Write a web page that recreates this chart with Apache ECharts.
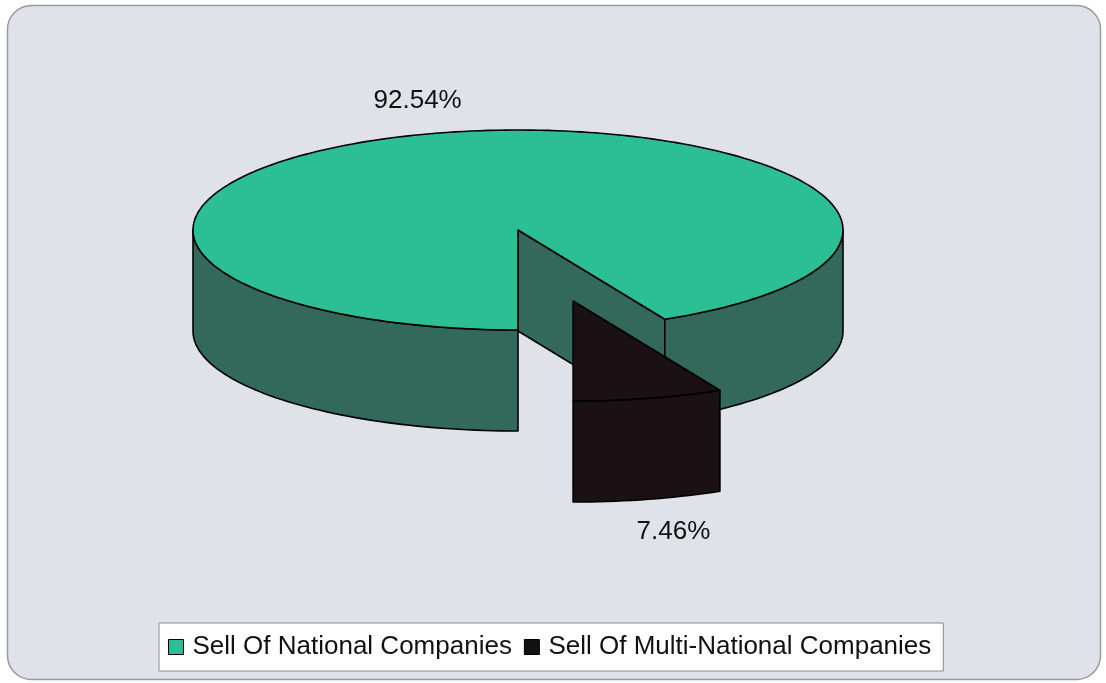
<!DOCTYPE html>
<html>
<head>
<meta charset="utf-8">
<script src="https://cdn.jsdelivr.net/npm/echarts@6/dist/echarts.min.js"></script>
<style>
  html, body { margin: 0; padding: 0; background: #ffffff; }
  #chart { width: 1106px; height: 683px; }
</style>
</head>
<body>
<div id="chart"></div>
<script>
// Market share of sales: national vs multi-national companies
const categories = ['Sell Of National Companies', 'Sell Of Multi-National Companies'];
const shares = [92.54, 7.46];
const shareLabels = ['92.54%', '7.46%'];

// Drawing parameters for the tilted 3D pie (in axis units: rx = 1, ry = 1)
const PIE = {
  startAngle: 90,        // screen angle (y down) where the first slice begins: straight to the front
  depth: 1.01,           // thickness of the disc
  explode: [0, 0.73],    // radial pull-out of each slice
  labelRadius: 1.33,
  topColors: ['#2cbf96', '#1b1114'],
  sideColors: ['#33695b', '#1b1114'],
  legendColors: ['#2cbf96', '#111111']
};

const total = shares.reduce((a, b) => a + b, 0);
const rad = d => d * Math.PI / 180;

function makeRenderer(idx) {
  return function (params, api) {
    let before = 0;
    for (let k = 0; k < idx; k++) before += shares[k];
    const a0 = PIE.startAngle + 360 * before / total;
    const a1 = a0 + 360 * shares[idx] / total;
    const mid = (a0 + a1) / 2;
    const e = PIE.explode[idx];
    const cx = e * Math.cos(rad(mid));
    const cy = -e * Math.sin(rad(mid));
    const D = PIE.depth;

    const pt = (deg, r, z) => api.coord([cx + r * Math.cos(rad(deg)), cy - r * Math.sin(rad(deg)) - z]);
    const arc = (from, to, z) => {
      const pts = [];
      const n = Math.max(2, Math.ceil(Math.abs(to - from) / 1.5));
      for (let s = 0; s <= n; s++) pts.push(pt(from + (to - from) * s / n, 1, z));
      return pts;
    };
    const stroke = { stroke: '#000', lineWidth: 1.6, lineJoin: 'round' };
    const children = [];

    // radial cut faces that turn toward the viewer
    const face = a => ({
      type: 'polygon',
      shape: { points: [pt(a, 0, 0), pt(a, 1, 0), pt(a, 1, D), pt(a, 0, D)] },
      style: Object.assign({ fill: PIE.sideColors[idx] }, stroke)
    });
    if (Math.cos(rad(a0)) < -1e-6) children.push(face(a0));
    if (Math.cos(rad(a1)) > 1e-6) children.push(face(a1));

    // outer wall: only the front half of the rim is visible
    for (let k = -1; k <= 2; k++) {
      const lo = Math.max(a0, k * 360);
      const hi = Math.min(a1, k * 360 + 180);
      if (hi - lo > 1e-6) {
        const top = arc(lo, hi, 0);
        const bottom = arc(hi, lo, D);
        children.push({
          type: 'polygon',
          shape: { points: top.concat(bottom) },
          style: Object.assign({ fill: PIE.sideColors[idx] }, stroke)
        });
      }
    }

    // top face
    children.push({
      type: 'polygon',
      shape: { points: [pt(a0, 0, 0)].concat(arc(a0, a1, 0)) },
      style: Object.assign({ fill: PIE.topColors[idx] }, stroke)
    });

    // percentage label, pushed out along the slice's middle direction
    const zLab = Math.sin(rad(mid)) > 0 ? D : 0;
    const lp = api.coord([
      cx + PIE.labelRadius * Math.cos(rad(mid)),
      cy - PIE.labelRadius * Math.sin(rad(mid)) - zLab
    ]);
    children.push({
      type: 'text',
      x: lp[0], y: lp[1],
      style: {
        text: shareLabels[idx],
        fill: '#111',
        font: '26px "Liberation Sans", Arial, sans-serif',
        align: 'center',
        verticalAlign: 'middle'
      }
    });

    return { type: 'group', children };
  };
}

const chart = echarts.init(document.getElementById('chart'), null, { renderer: 'canvas' });

chart.setOption({
  backgroundColor: '#ffffff',
  animation: false,
  graphic: [{
    type: 'rect',
    z: -10,
    shape: { x: 7.5, y: 5.5, width: 1093, height: 674, r: 24 },
    style: { fill: '#dfe3e9', stroke: '#9a9a9a', lineWidth: 1.5 }
  }],
  grid: { left: 193, top: 130, width: 650, height: 400 },
  xAxis: { type: 'value', min: -1, max: 1, show: false },
  yAxis: { type: 'value', min: -3, max: 1, show: false },
  legend: {
    data: categories,
    orient: 'horizontal',
    left: 159,
    top: 623,
    icon: 'rect',
    itemWidth: 15,
    itemHeight: 15,
    itemGap: 12,
    padding: [11, 12, 11, 9],
    backgroundColor: '#ffffff',
    borderColor: '#8a8a8a',
    borderWidth: 1,
    selectedMode: false,
    itemStyle: { borderColor: '#000', borderWidth: 1 },
    textStyle: {
      fontSize: 26,
      fontFamily: '"Liberation Sans", Arial, sans-serif',
      color: '#111',
      padding: [0, 0, 0, 4]
    }
  },
  series: categories.map((name, i) => ({
    type: 'custom',
    name: name,
    coordinateSystem: 'cartesian2d',
    clip: false,
    itemStyle: { color: PIE.legendColors[i] },
    data: [[0, 0, shares[i]]],
    renderItem: makeRenderer(i)
  }))
});
</script>
</body>
</html>
